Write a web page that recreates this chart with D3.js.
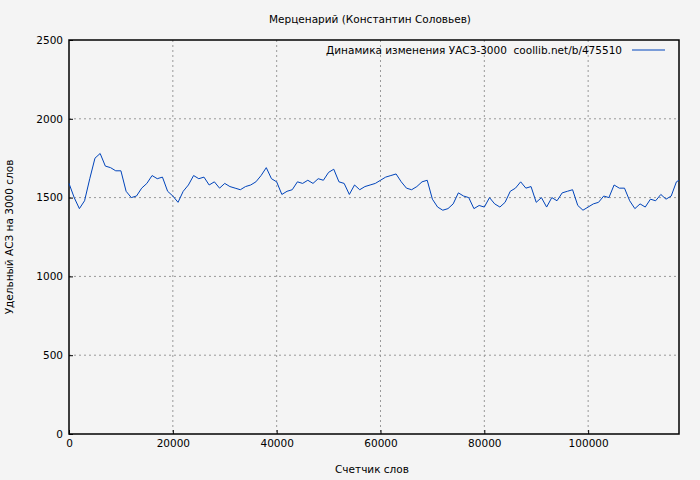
<!DOCTYPE html>
<html><head><meta charset="utf-8">
<script src="https://cdn.jsdelivr.net/npm/d3@7"></script>
<style>body{margin:0;background:#f4f4f4}text{font-family:"DejaVu Sans";}</style>
</head><body>
<script>
// word counter (step 1000) and УАС3-3000 values
var values = [1590,1500,1430,1480,1620,1750,1780,1700,1690,1670,1670,1540,1500,1510,1560,1590,1640,1620,1630,1540,
  1510,1470,1540,1580,1640,1620,1630,1580,1600,1560,1590,1570,1560,1550,1570,1580,1600,1640,1690,1620,
  1600,1520,1540,1550,1600,1590,1610,1590,1620,1610,1660,1680,1600,1590,1520,1580,1550,1570,1580,1590,
  1610,1630,1640,1650,1600,1560,1550,1570,1600,1610,1490,1440,1420,1430,1460,1530,1510,1500,1430,1450,
  1440,1500,1460,1440,1470,1540,1560,1600,1560,1570,1470,1500,1440,1500,1480,1530,1540,1550,1450,1420,
  1440,1460,1470,1510,1500,1580,1560,1560,1480,1430,1460,1440,1490,1480,1520,1490,1510,1600,1610];
var words = values.map(function(v,i){ return i<118 ? i*1000 : 117500; });
var xTicks = [0,20000,40000,60000,80000,100000];
var yTicks = [0,500,1000,1500,2000,2500];

var width=700, height=480, m={l:69,r:21,t:40,b:46};
var svg = d3.select("body").append("svg").attr("width",width).attr("height",height);
svg.append("rect").attr("width",width).attr("height",height).attr("fill","#f4f4f4");

var x = d3.scaleLinear().domain([0,117500]).range([m.l,width-m.r]);
var y = d3.scaleLinear().domain([0,2500]).range([height-m.b,m.t]);

/* grid */
svg.append("g").selectAll("line").data(xTicks.slice(1)).join("line")
  .attr("x1",x).attr("x2",x).attr("y1",m.t).attr("y2",height-m.b)
  .attr("stroke","#999").attr("stroke-dasharray","2,3");
svg.append("g").selectAll("line").data(yTicks.slice(1,-1)).join("line")
  .attr("y1",y).attr("y2",y).attr("x1",m.l).attr("x2",width-m.r)
  .attr("stroke","#999").attr("stroke-dasharray","2,3");

/* axes */
var xa = svg.append("g").attr("transform","translate(0,"+(height-m.b)+")")
  .call(d3.axisBottom(x).tickValues(xTicks).tickSize(-4).tickPadding(6).tickFormat(d3.format("d")));
var ya = svg.append("g").attr("transform","translate("+m.l+",0)")
  .call(d3.axisLeft(y).tickValues(yTicks).tickSize(-4).tickPadding(6).tickFormat(d3.format("d")));
[xa,ya].forEach(function(a){
  a.select(".domain").remove();
  a.selectAll("text").attr("font-size",10.5).attr("fill","#000").attr("font-family","DejaVu Sans");
  a.selectAll("line").attr("stroke","#000");
});
svg.append("rect").attr("x",m.l).attr("y",m.t).attr("width",width-m.l-m.r).attr("height",height-m.t-m.b)
  .attr("fill","none").attr("stroke","#000").attr("stroke-width",1.5);

/* line */
svg.append("path").datum(values)
  .attr("d", d3.line().x(function(d,i){return x(words[i]);}).y(function(d){return y(d);}))
  .attr("fill","none").attr("stroke","#0044bb").attr("stroke-width",1);

/* texts */
svg.append("text").attr("x",370).attr("y",23).attr("text-anchor","middle").attr("font-size",10.5)
  .text("Мерценарий (Константин Соловьев)");
svg.append("text").attr("x",372).attr("y",473).attr("text-anchor","middle").attr("font-size",10.5)
  .text("Счетчик слов");
svg.append("text").attr("transform","translate(13,237) rotate(-90)").attr("text-anchor","middle").attr("font-size",10.5)
  .text("Удельный АСЗ на 3000 слов");
svg.append("text").attr("x",622).attr("y",54).attr("text-anchor","end").attr("font-size",10.5)
  .text("Динамика изменения УАСЗ-3000  coollib.net/b/475510").attr("xml:space","preserve").style("white-space","pre");
svg.append("line").attr("x1",632).attr("x2",665).attr("y1",50).attr("y2",50).attr("stroke","#0044bb");
</script>
</body></html>
